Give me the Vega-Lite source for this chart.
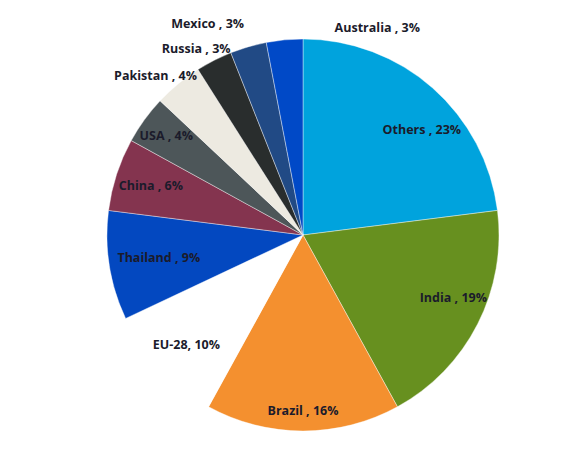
{
  "$schema": "https://vega.github.io/schema/vega-lite/v6.json",
  "width": 560,
  "height": 452,
  "padding": {"left": 23, "top": 9, "right": 0, "bottom": 0},
  "autosize": {"type": "none"},
  "background": "white",
  "view": {"stroke": null},
  "config": {
    "text": {"font": "Open Sans", "fontSize": 12.5, "fontWeight": "bold", "fill": "#1B1B2B"}
  },
  "data": {
    "values": [
      {"idx": 1, "country": "Others", "share": 23, "label": "Others , 23%"},
      {"idx": 2, "country": "India", "share": 19, "label": "India , 19%"},
      {"idx": 3, "country": "Brazil", "share": 16, "label": "Brazil , 16%"},
      {"idx": 4, "country": "EU-28", "share": 10, "label": "EU-28, 10%"},
      {"idx": 5, "country": "Thailand", "share": 9, "label": "Thailand , 9%"},
      {"idx": 6, "country": "China", "share": 6, "label": "China , 6%"},
      {"idx": 7, "country": "USA", "share": 4, "label": "USA , 4%"},
      {"idx": 8, "country": "Pakistan", "share": 4, "label": "Pakistan , 4%"},
      {"idx": 9, "country": "Russia", "share": 3, "label": "Russia , 3%"},
      {"idx": 10, "country": "Mexico", "share": 3, "label": "Mexico , 3%"},
      {"idx": 11, "country": "Australia", "share": 3, "label": "Australia , 3%"}
    ]
  },
  "transform": [
    {"stack": "share", "groupby": [], "sort": [{"field": "idx", "order": "ascending"}], "as": ["s0", "s1"]},
    {"calculate": "(datum.s0 + datum.s1) / 2", "as": "mid"}
  ],
  "layer": [
    {
      "mark": {"type": "arc", "outerRadius": 196, "stroke": "white", "strokeWidth": 0.4},
      "encoding": {
        "theta": {"field": "s0", "type": "quantitative", "scale": {"domain": [0, 100]}},
        "theta2": {"field": "s1"},
        "color": {
          "field": "country",
          "type": "nominal",
          "legend": null,
          "scale": {
            "domain": ["Others", "India", "Brazil", "EU-28", "Thailand", "China", "USA", "Pakistan", "Russia", "Mexico", "Australia"],
            "range": ["#00A3DD", "#67901F", "#F4902F", "#FFFFFF", "#0348C0", "#84344F", "#4D5659", "#EDEAE1", "#292D2D", "#214A85", "#0049C7"]
          }
        }
      }
    },
    {
      "transform": [{"filter": "datum.idx == 4 || datum.idx == 6"}],
      "mark": {"type": "text", "radius": 160},
      "encoding": {
        "theta": {"field": "mid", "type": "quantitative", "scale": {"domain": [0, 100]}},
        "text": {"field": "label"}
      }
    },
    {
      "transform": [{"filter": "datum.idx == 1"}],
      "mark": {"type": "text", "radius": 160, "dx": 13, "dy": 15},
      "encoding": {
        "theta": {"field": "mid", "type": "quantitative", "scale": {"domain": [0, 100]}},
        "text": {"field": "label"}
      }
    },
    {
      "transform": [{"filter": "datum.idx == 2"}],
      "mark": {"type": "text", "radius": 162, "dx": 6, "dy": -11},
      "encoding": {
        "theta": {"field": "mid", "type": "quantitative", "scale": {"domain": [0, 100]}},
        "text": {"field": "label"}
      }
    },
    {
      "transform": [{"filter": "datum.idx == 3"}],
      "mark": {"type": "text", "radius": 176},
      "encoding": {
        "theta": {"field": "mid", "type": "quantitative", "scale": {"domain": [0, 100]}},
        "text": {"field": "label"}
      }
    },
    {
      "transform": [{"filter": "datum.idx == 5"}],
      "mark": {"type": "text", "radius": 146},
      "encoding": {
        "theta": {"field": "mid", "type": "quantitative", "scale": {"domain": [0, 100]}},
        "text": {"field": "label"}
      }
    },
    {
      "transform": [{"filter": "datum.idx == 7"}],
      "mark": {"type": "text", "radius": 169},
      "encoding": {
        "theta": {"field": "mid", "type": "quantitative", "scale": {"domain": [0, 100]}},
        "text": {"field": "label"}
      }
    },
    {
      "transform": [{"filter": "datum.idx == 8 || datum.idx == 9"}],
      "mark": {"type": "text", "radius": 222, "dx": -6, "dy": 12},
      "encoding": {
        "theta": {"field": "mid", "type": "quantitative", "scale": {"domain": [0, 100]}},
        "text": {"field": "label"}
      }
    },
    {
      "transform": [{"filter": "datum.idx == 10"}],
      "mark": {"type": "text", "radius": 220, "dx": -34, "dy": 0},
      "encoding": {
        "theta": {"field": "mid", "type": "quantitative", "scale": {"domain": [0, 100]}},
        "text": {"field": "label"}
      }
    },
    {
      "transform": [{"filter": "datum.idx == 11"}],
      "mark": {"type": "text", "radius": 220, "dx": 95, "dy": 12},
      "encoding": {
        "theta": {"field": "mid", "type": "quantitative", "scale": {"domain": [0, 100]}},
        "text": {"field": "label"}
      }
    }
  ]
}
